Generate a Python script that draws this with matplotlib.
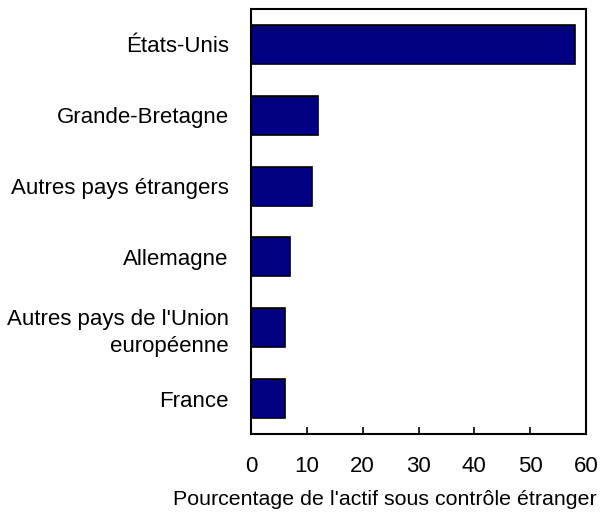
import matplotlib
matplotlib.use('Agg')
import matplotlib.pyplot as plt

# Data (top to bottom)
categories = ['États-Unis', 'Grande-Bretagne', 'Autres pays étrangers', 'Allemagne',
              "Autres pays de l'Union\neuropéenne", 'France']
values = [58, 12, 11, 7, 6, 6]
xticks = [0, 10, 20, 30, 40, 50, 60]

plt.rcParams['font.family'] = ['Liberation Sans', 'DejaVu Sans']
plt.rcParams['font.size'] = 16

fig = plt.figure(figsize=(6.1, 5.12), dpi=100)
ax = fig.add_axes([0.4115, 0.1523, 0.5492, 0.8301])

ypos = list(range(len(categories)))
ax.barh(ypos, values, height=0.55, color='#000080', edgecolor='black', linewidth=1.2)

ax.set_ylim(len(categories) - 0.5, -0.5)
ax.set_xlim(0, 60)
ax.set_yticks(ypos)
ax.set_yticklabels(categories, ha='right', multialignment='right', linespacing=1.35)
ax.tick_params(axis='y', length=0, pad=16)
ax.set_xticks(xticks)
ax.tick_params(axis='x', direction='in', length=5, width=1.2, pad=16)
for s in ax.spines.values():
    s.set_linewidth(1.5)

# label sits a bit left of the axes centre in the original
ax.set_xlabel("Pourcentage de l'actif sous contrôle étranger", fontsize=15.4, x=0.4, labelpad=9)

fig.savefig('out.png', dpi=100)
